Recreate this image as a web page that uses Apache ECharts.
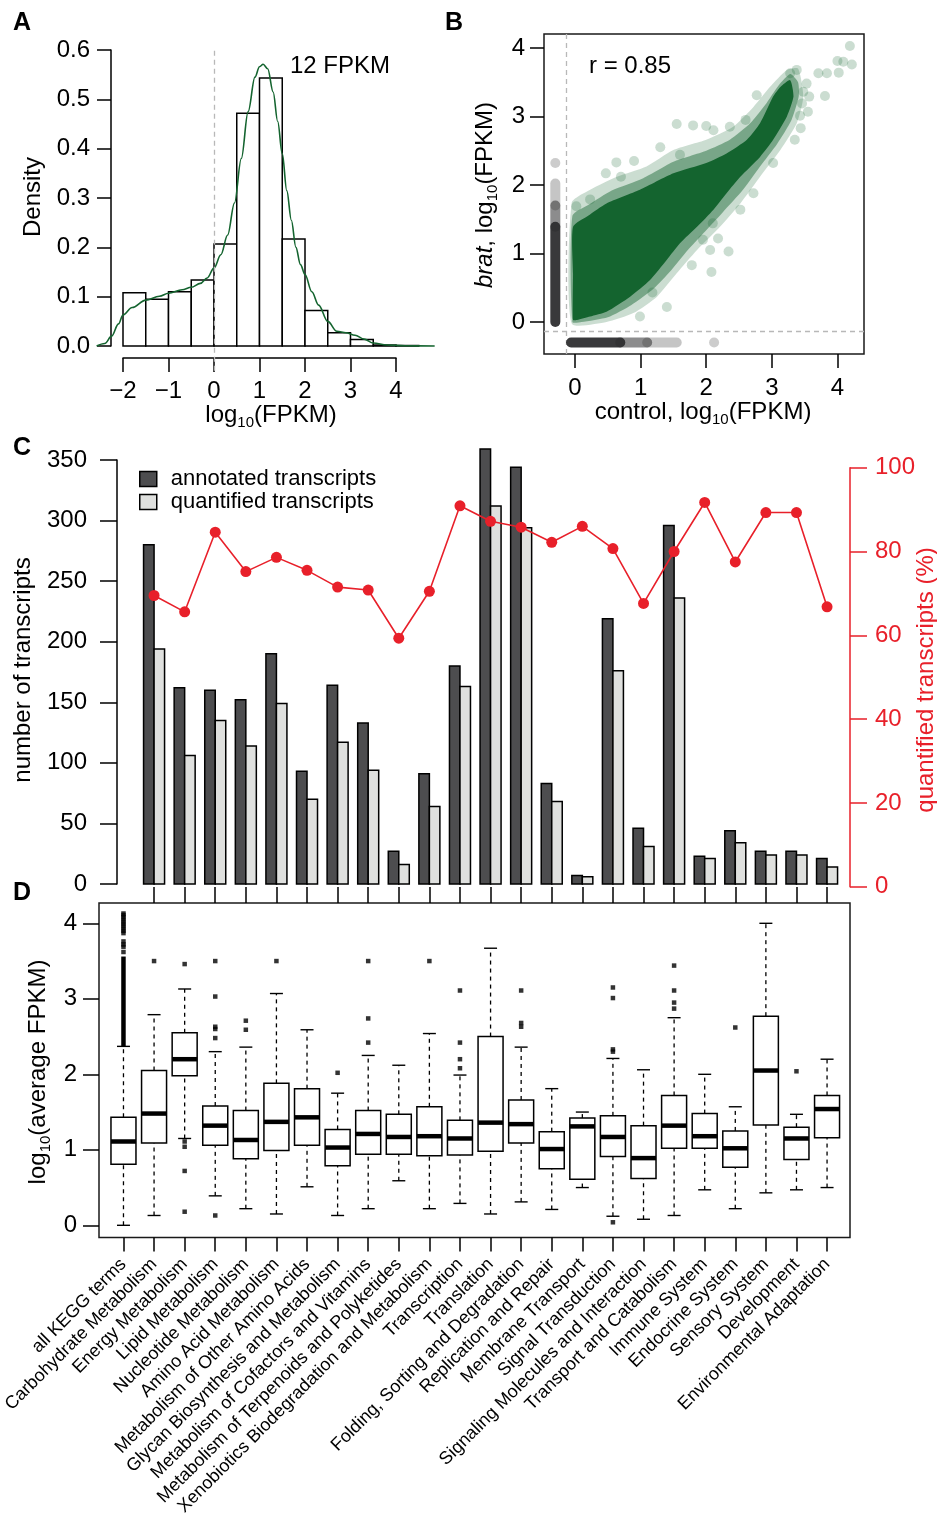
<!DOCTYPE html>
<html><head><meta charset="utf-8">
<script src="https://cdn.jsdelivr.net/npm/echarts@6/dist/echarts.min.js"></script>
<style>html,body{margin:0;padding:0;background:#fff}#c{width:937px;height:1518px}</style>
</head><body><div id="c"></div>
<script>
// ---------------- Panel A data ----------------
const histBreaks = [-2, -1.5, -1, -0.5, 0, 0.5, 1, 1.5, 2, 2.5, 3, 3.5, 4, 4.5];
const histDensity = [0.108, 0.095, 0.110, 0.134, 0.207, 0.472, 0.543, 0.217, 0.072, 0.027, 0.013, 0.002, 0.001];
const kdeX = [-2.58, -2.4, -2.25, -2.1, -2.0, -1.8, -1.5, -1.2, -1.0, -0.7, -0.5, -0.3, -0.15, 0.0, 0.15, 0.3, 0.45, 0.6, 0.75, 0.9, 1.0, 1.08, 1.18, 1.3, 1.4, 1.5, 1.6, 1.7, 1.8, 1.9, 2.0, 2.15, 2.3, 2.5, 2.7, 2.9, 3.1, 3.3, 3.5, 3.8, 4.2, 4.85];
const kdeY = [0.0, 0.005, 0.02, 0.045, 0.063, 0.078, 0.093, 0.101, 0.107, 0.114, 0.119, 0.127, 0.138, 0.158, 0.185, 0.225, 0.29, 0.38, 0.475, 0.545, 0.566, 0.571, 0.562, 0.515, 0.455, 0.39, 0.315, 0.255, 0.2, 0.165, 0.145, 0.11, 0.083, 0.05, 0.03, 0.027, 0.022, 0.014, 0.006, 0.002, 0.0005, 0.0];
const fpkmCutoff = 0;            // dashed line, log10(FPKM)
const histTicksX = [-2, 4];
// ---------------- Panel B data ----------------
const cloudCore = [[-0.03,0.03],[-0.03,0.7],[-0.03,1.39],[0.2,1.55],[0.48,1.73],[0.99,1.93],[1.5,2.17],[2.0,2.32],[2.31,2.46],[2.62,2.66],[2.82,2.9],[3.02,3.29],[3.13,3.43],[3.28,3.53],[3.33,3.29],[3.23,3.0],[3.02,2.66],[2.82,2.41],[2.52,2.12],[2.31,1.88],[2.11,1.64],[1.86,1.39],[1.6,1.15],[1.4,0.91],[1.14,0.61],[0.84,0.37],[0.48,0.15],[0.23,0.08],[0.03,0.03]];
const cloudMid = [[-0.04,0.0],[-0.04,1.55],[0.22,1.72],[0.56,1.92],[1.04,2.1],[1.5,2.34],[2.0,2.5],[2.36,2.66],[2.67,2.9],[2.9,3.17],[3.1,3.45],[3.28,3.62],[3.4,3.5],[3.41,3.29],[3.3,2.95],[3.08,2.6],[2.82,2.27],[2.56,1.93],[2.25,1.6],[1.96,1.3],[1.7,1.03],[1.47,0.76],[1.2,0.49],[0.86,0.25],[0.5,0.07],[0.1,0.0]];
const cloudHalo = [[-0.05,-0.02],[-0.05,1.74],[0.23,1.93],[0.64,2.12],[1.09,2.27],[1.5,2.51],[2.0,2.66],[2.41,2.85],[2.72,3.14],[2.97,3.43],[3.23,3.68],[3.4,3.7],[3.48,3.29],[3.38,2.9],[3.13,2.51],[2.82,2.12],[2.52,1.73],[2.21,1.39],[1.86,1.05],[1.55,0.71],[1.25,0.37],[0.89,0.13],[0.48,0.0]];
const cloudOutliers = [[4.19,4.03],[4.0,3.81],[4.09,3.8],[4.22,3.76],[4.02,3.64],[3.84,3.63],[3.71,3.63],[3.38,3.68],[3.28,3.63],[3.53,3.48],[3.48,3.36],[3.57,3.29],[3.81,3.3],[3.46,3.19],[3.55,3.07],[3.43,3.01],[3.44,2.83],[3.35,2.66],[2.77,3.31],[1.55,2.89],[1.8,2.87],[2.0,2.86],[2.11,2.8],[2.36,2.85],[1.6,2.44],[0.63,2.33],[0.47,2.17],[0.7,2.12],[0.23,1.79],[0.02,1.69],[2.06,1.05],[2.34,1.03],[2.08,0.73],[1.78,0.83],[2.1,1.44],[2.18,1.22],[2.52,1.64],[2.72,1.88],[3.02,2.32],[1.4,0.22],[1.18,0.43],[0.99,0.08],[1.3,2.55],[0.9,2.35],[2.6,2.95],[1.95,1.2]];
const zeroPos = -0.30;            // where zero-FPKM transcripts are plotted
const dashPos = -0.14;            // dashed separators
const ctrlZeroBands = [[0.0, 1.39, 0.95], [1.39, 1.7, 0.55], [1.7, 2.02, 0.28]];   // brat values where control = 0
const bratZeroBands = [[-0.06, 0.69, 0.95], [0.69, 1.1, 0.55], [1.1, 1.55, 0.28]]; // control values where brat = 0
const zeroOutliers = [[zeroPos, 2.32], [2.12, zeroPos]];
// ---------------- Panels C & D data ----------------
const categories = ['all KEGG terms','Carbohydrate Metabolism','Energy Metabolism','Lipid Metabolism','Nucleotide Metabolism','Amino Acid Metabolism','Metabolism of Other Amino Acids','Glycan Biosynthesis and Metabolism','Metabolism of Cofactors and Vitamins','Metabolism of Terpenoids and Polyketides','Xenobiotics Biodegradation and Metabolism','Transcription','Translation','Folding, Sorting and Degradation','Replication and Repair','Membrane Transport','Signal Transduction','Signaling Molecules and Interaction','Transport and Catabolism','Immune System','Endocrine System','Sensory System','Development','Environmental Adaptation'];
const annotated  = [280,162,160,152,190,93,164,133,27,91,180,359,344,83,7,219,46,296,23,44,27,27,21];
const quantified = [194,106,135,114,149,70,117,94,16,64,163,312,294,68,6,176,31,236,21,34,24,24,14];
const quantifiedPct = [69.5,65.6,84.6,75.2,78.6,75.5,71.5,70.8,59.3,70.5,90.9,87.2,85.8,82.2,86.0,80.7,67.6,80.0,91.7,77.5,89.3,89.3,66.8];
const boxLow  = [0.00,0.13,1.15,0.39,0.22,0.15,0.51,0.13,0.22,0.59,0.22,0.29,0.15,0.31,0.21,0.50,0.12,0.08,0.13,0.47,0.22,0.43,0.47,0.50];
const boxQ1   = [0.81,1.09,1.98,1.06,0.88,0.99,1.06,0.79,0.94,0.94,0.92,0.93,0.98,1.09,0.75,0.61,0.91,0.62,1.02,1.02,0.77,1.33,0.87,1.16];
const boxMed  = [1.11,1.48,2.20,1.32,1.13,1.37,1.43,1.03,1.21,1.17,1.18,1.15,1.36,1.34,1.01,1.31,1.17,0.89,1.32,1.18,1.02,2.05,1.15,1.54];
const boxQ3   = [1.43,2.05,2.55,1.58,1.52,1.88,1.81,1.27,1.52,1.47,1.57,1.39,2.50,1.66,1.24,1.42,1.45,1.32,1.72,1.48,1.25,2.77,1.30,1.72];
const boxHigh = [2.37,2.79,3.13,2.30,2.36,3.07,2.59,1.75,2.25,2.12,2.54,1.99,3.67,2.36,1.81,1.50,2.21,2.06,2.75,2.00,1.57,4.00,1.47,2.20];
const boxOutliers = [[0,3.62],[0,3.69],[0,3.72],[0,3.76],[0,3.87],[0,3.9],[0,3.93],[0,3.96],[0,3.99],[0,4.02],[0,4.05],[0,4.08],[0,4.11],[0,4.13],
  [1,3.50],[2,3.46],[2,1.11],[2,1.04],[2,0.72],[2,0.18],[3,3.50],[3,3.03],[3,2.63],[3,2.60],[3,2.48],[3,0.13],[4,2.71],[4,2.59],[5,3.50],[7,2.02],
  [8,3.50],[8,2.74],[8,2.42],[10,3.50],[11,3.11],[11,2.42],[11,2.20],[11,2.08],[13,3.11],[13,2.68],[13,2.63],[16,3.15],[16,3.01],[16,2.33],[16,2.30],[16,0.04],
  [18,3.44],[18,3.11],[18,2.95],[18,2.87],[20,2.62],[22,2.04]];
const denseOutlierRange = [[0, 2.37, 3.56]];  // all KEGG terms: continuous run of outliers

// ---------------- styling ----------------
const FONT = "'Liberation Sans', Arial, Helvetica, sans-serif";
const GREEN = '#14642f', RED = '#e8202a', DARK = '#4d4d4f', LIGHT = '#dfe0de';

const chart = echarts.init(document.getElementById('c'), null, {renderer:'canvas', width:937, height:1518});

function G(left, top, width, height, border) {
  return {left, top, width, height, containLabel:false, outerBoundsMode:'none',
    show: !!border, borderColor:'#1a1a1a', borderWidth: border ? 1.5 : 0, backgroundColor:'transparent'};
}
function hid(gi, min, max) { return {type:'value', gridIndex:gi, min, max, show:false, splitLine:{show:false}, axisLine:{onZero:false}}; }
function ax(gi, min, max, interval, o) {
  o = o || {};
  return {
    type:'value', gridIndex:gi, min, max, interval, position:o.position,
    axisLine:{show:!!o.line, onZero:false, lineStyle:{color:o.color||'#000', width:1.5}},
    axisTick:{show:true, inside:false, length:o.tick||14, lineStyle:{color:o.color||'#000', width:1.5}},
    axisLabel:{show:o.label!==false, color:o.color||'#000', fontSize:o.fs||24, fontFamily:FONT, margin:o.margin||20,
      formatter:o.fmt, rotate:o.rotate||0},
    splitLine:{show:false}, splitArea:{show:false}
  };
}
const minus = v => (v < 0 ? '\u2212' + Math.abs(v) : String(v));

const rich = {
  a:{fontSize:24, fontFamily:FONT, lineHeight:30, color:'#000'},
  s:{fontSize:15, fontFamily:FONT, lineHeight:15, verticalAlign:'bottom', color:'#000'},
  i:{fontSize:24, fontFamily:FONT, fontStyle:'italic', lineHeight:30, color:'#000'}
};
function txt(x, y, text, o) {
  o = o || {};
  return {type:'text', x, y, rotation:o.rot||0, z:100,
    style:{text, rich:o.rich, fill:o.color||'#000', fontSize:o.fs||24, fontFamily:FONT, fontWeight:o.fw||'normal',
      align:o.align||'center', verticalAlign:'middle'}};
}
function poly(name, outline, opacity, z) {
  return {type:'custom', name, xAxisIndex:3, yAxisIndex:3, z, data:[[0,0]],
    renderItem:(p, api) => ({type:'polygon', shape:{points: outline.map(q => api.coord(q)), smooth:0.2},
      style:{fill:GREEN, opacity}})};
}

const option = {
  animation:false,
  backgroundColor:'#fff',
  textStyle:{fontFamily:FONT},
  grid:[
    G(95.7, 50, 341.25, 320.7),      //0 A data
    G(111, 50, 1, 296),              //1 A y axis
    G(123, 357, 273, 1),             //2 A x axis
    G(544, 34, 320, 320, true),      //3 B data
    G(544, 48, 1, 274),              //4 B y axis
    G(575, 353, 262.4, 1),           //5 B x axis
    G(99, 460, 751, 424),            //6 C bars
    G(117, 460, 1, 424),             //7 C left axis
    G(99, 467.7, 751, 419),          //8 C percent
    G(154.06, 886, 673, 1),          //9 C x ticks
    G(99, 903, 751, 334.5, true),    //10 D data
    G(99, 923.3, 1, 302),            //11 D y axis
    G(123.47, 1236.5, 703.6, 1)      //12 D x axis
  ],
  xAxis:[
    hid(0, -2.6, 4.9),
    hid(1, 0, 1),
    ax(2, histTicksX[0], histTicksX[1], 1, {line:true, margin:21, fmt:minus}),
    hid(3, -0.4726, 4.405),
    hid(4, 0, 1),
    ax(5, 0, 4, 1, {margin:22}),
    hid(6, -0.8, 23.75),
    hid(7, 0, 1),
    hid(8, -0.8, 23.75),
    ax(9, 1, 23, 1, {tick:16, label:false}),
    hid(10, -0.8, 23.75),
    hid(11, 0, 1),
    ax(12, 0, 23, 1, {tick:14, fs:18, margin:24, rotate:45, fmt: v => categories[v] || ''})
  ],
  yAxis:[
    hid(0, -0.05, 0.6),
    ax(1, 0, 0.6, 0.1, {line:true, margin:21, fmt: v => v.toFixed(1)}),
    hid(2, 0, 1),
    hid(3, -0.467, 4.204),
    ax(4, 0, 4, 1, {margin:19}),
    hid(5, 0, 1),
    hid(6, 0, 350),
    ax(7, 0, 350, 50, {line:true, tick:17, margin:30}),
    ax(8, 0, 100, 20, {line:true, tick:17, margin:25, color:RED, position:'right'}),
    hid(9, 0, 1),
    hid(10, -0.1616, 4.269),
    ax(11, 0, 4, 1, {tick:16, margin:22}),
    hid(12, 0, 1)
  ],
  legend:{
    show:true, orient:'vertical', left:134, top:463, itemWidth:17, itemHeight:15, itemGap:1,
    selectedMode:false, icon:'rect',
    textStyle:{fontSize:22, fontFamily:FONT, color:'#000', padding:[0,0,0,9]},
    data:[
      {name:'annotated transcripts', itemStyle:{color:DARK, borderColor:'#000', borderWidth:1.5}},
      {name:'quantified transcripts', itemStyle:{color:LIGHT, borderColor:'#000', borderWidth:1.5}}
    ]
  },
  series:[
    // ---- A ----
    {type:'custom', name:'hist', xAxisIndex:0, yAxisIndex:0, z:2,
      data: histDensity.map((d,i) => [histBreaks[i], histBreaks[i+1], d]),
      renderItem:(p, api) => {
        const a = api.coord([api.value(0), 0]), b = api.coord([api.value(1), api.value(2)]);
        return {type:'rect', shape:{x:a[0], y:b[1], width:b[0]-a[0], height:a[1]-b[1]},
          style:{fill:'#fff', stroke:'#000', lineWidth:1.5}};
      }},
    {type:'line', name:'density', xAxisIndex:0, yAxisIndex:0, z:4,
      data: kdeX.map((x,i) => [x, kdeY[i]]), smooth:0.35, smoothMonotone:'x', showSymbol:false, symbol:'none',
      lineStyle:{color:GREEN, width:1.6},
      markLine:{silent:true, symbol:['none','none'], label:{show:false},
        lineStyle:{type:[5,4], color:'#b8b8b8', width:1.3}, data:[{xAxis:fpkmCutoff}]}},
    // ---- B ----
    poly('halo', cloudHalo, 0.22, 2),
    {type:'scatter', name:'outliers', xAxisIndex:3, yAxisIndex:3, z:3,
      data: cloudOutliers, symbolSize:10, itemStyle:{color:GREEN, opacity:0.22},
      markLine:{silent:true, symbol:['none','none'], label:{show:false},
        lineStyle:{type:[5,4], color:'#b8b8b8', width:1.3}, data:[{xAxis:dashPos},{yAxis:dashPos}]}},
    poly('mid', cloudMid, 0.45, 3),
    poly('core', cloudCore, 1, 4),
    {type:'custom', name:'zeroStripes', xAxisIndex:3, yAxisIndex:3, z:5,
      data: ctrlZeroBands.map(b => [zeroPos, b[0], zeroPos, b[1], b[2]])
        .concat(bratZeroBands.map(b => [b[0], zeroPos, b[1], zeroPos, b[2]])),
      renderItem:(p, api) => {
        const a = api.coord([api.value(0), api.value(1)]), b = api.coord([api.value(2), api.value(3)]);
        return {type:'line', shape:{x1:a[0], y1:a[1], x2:b[0], y2:b[1]},
          style:{stroke:'#2e2e30', lineWidth:10, lineCap:'round', opacity:api.value(4)}};
      }},
    {type:'scatter', name:'zeroOut', xAxisIndex:3, yAxisIndex:3, z:5, data:zeroOutliers, symbolSize:10,
      itemStyle:{color:'#555', opacity:0.3}},
    // ---- C ----
    {type:'custom', name:'annotated transcripts', xAxisIndex:6, yAxisIndex:6, z:3,
      itemStyle:{color:DARK},
      data: annotated.map((v,i) => [i+1, v]),
      renderItem:(p, api) => {
        const a = api.coord([api.value(0), 0]), b = api.coord([api.value(0), api.value(1)]);
        return {type:'rect', shape:{x:a[0]-10.5, y:b[1], width:10.5, height:a[1]-b[1]},
          style:{fill:DARK, stroke:'#000', lineWidth:1.5}};
      }},
    {type:'custom', name:'quantified transcripts', xAxisIndex:6, yAxisIndex:6, z:3,
      itemStyle:{color:LIGHT},
      data: quantified.map((v,i) => [i+1, v]),
      renderItem:(p, api) => {
        const a = api.coord([api.value(0), 0]), b = api.coord([api.value(0), api.value(1)]);
        return {type:'rect', shape:{x:a[0], y:b[1], width:10.5, height:a[1]-b[1]},
          style:{fill:LIGHT, stroke:'#000', lineWidth:1.5}};
      }},
    {type:'line', name:'pct', xAxisIndex:8, yAxisIndex:8, z:6,
      data: quantifiedPct.map((v,i) => [i+1, v]), symbol:'circle', symbolSize:11, showSymbol:true,
      lineStyle:{color:RED, width:1.6}, itemStyle:{color:RED}},
    // ---- D ----
    {type:'custom', name:'boxes', xAxisIndex:10, yAxisIndex:10, z:3,
      data: boxLow.map((l,i) => [i, l, boxQ1[i], boxMed[i], boxQ3[i], boxHigh[i]]),
      renderItem:(p, api) => {
        const x = api.value(0);
        const c = v => api.coord([x, v]);
        const lo = c(api.value(1)), q1 = c(api.value(2)), md = c(api.value(3)), q3 = c(api.value(4)), hi = c(api.value(5));
        const cx = lo[0], hw = 12.5, cap = 6.5;
        const solid = {stroke:'#000', lineWidth:1.4};
        const dash = {stroke:'#000', lineWidth:1.3, lineDash:[4,4]};
        return {type:'group', children:[
          {type:'line', shape:{x1:cx, y1:lo[1], x2:cx, y2:q1[1]}, style:dash},
          {type:'line', shape:{x1:cx, y1:q3[1], x2:cx, y2:hi[1]}, style:dash},
          {type:'line', shape:{x1:cx-cap, y1:lo[1], x2:cx+cap, y2:lo[1]}, style:solid},
          {type:'line', shape:{x1:cx-cap, y1:hi[1], x2:cx+cap, y2:hi[1]}, style:solid},
          {type:'rect', shape:{x:cx-hw, y:q3[1], width:2*hw, height:q1[1]-q3[1]}, style:{fill:'#fff', stroke:'#000', lineWidth:1.5}},
          {type:'line', shape:{x1:cx-hw, y1:md[1], x2:cx+hw, y2:md[1]}, style:{stroke:'#000', lineWidth:4.5}}
        ]};
      }},
    {type:'scatter', name:'boxOut', xAxisIndex:10, yAxisIndex:10, z:4, data:boxOutliers,
      symbol:'rect', symbolSize:4.5, itemStyle:{color:'#000'}},
    {type:'custom', name:'denseOut', xAxisIndex:10, yAxisIndex:10, z:4, data:denseOutlierRange,
      renderItem:(p, api) => {
        const a = api.coord([api.value(0), api.value(1)]), b = api.coord([api.value(0), api.value(2)]);
        return {type:'line', shape:{x1:a[0], y1:a[1], x2:b[0], y2:b[1]}, style:{stroke:'#000', lineWidth:4.5}};
      }}
  ],
  graphic:[
    txt(22, 23, 'A', {fw:'bold', fs:25}),
    txt(454, 23, 'B', {fw:'bold', fs:25}),
    txt(22, 448, 'C', {fw:'bold', fs:25}),
    txt(22, 893, 'D', {fw:'bold', fs:25}),
    txt(290, 66, '12 FPKM', {align:'left'}),
    txt(589, 66, 'r = 0.85', {align:'left'}),
    txt(33, 197, 'Density', {rot:Math.PI/2}),
    txt(271, 415, '{a|log}{s|10}{a|(FPKM)}', {rich}),
    txt(703, 412, '{a|control, log}{s|10}{a|(FPKM)}', {rich}),
    txt(485, 195, '{i|brat}{a|, log}{s|10}{a|(FPKM)}', {rich, rot:Math.PI/2}),
    txt(23, 670, 'number of transcripts', {rot:Math.PI/2}),
    txt(926, 680, 'quantified transcripts (%)', {rot:Math.PI/2, color:RED}),
    txt(38, 1072, '{a|log}{s|10}{a|(average FPKM)}', {rich, rot:Math.PI/2})
  ]
};
chart.setOption(option);
</script></body></html>
